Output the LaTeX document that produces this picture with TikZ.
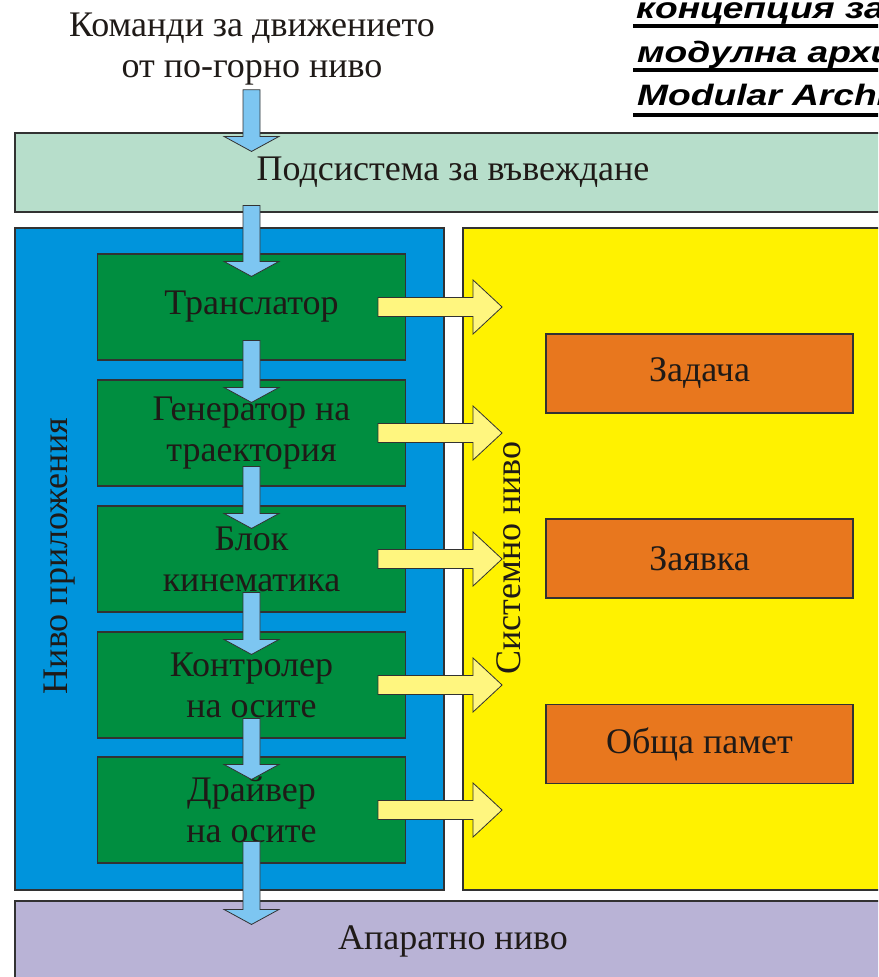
\documentclass[tikz,border=0pt]{standalone}
\usepackage{fontspec}
\setmainfont{Liberation Serif}
\newfontfamily\headfont{Liberation Sans}
\usetikzlibrary{calc}

\definecolor{ink}{RGB}{31,26,23}
\definecolor{edge}{RGB}{50,50,50}
\definecolor{inputfill}{RGB}{183,222,203}
\definecolor{appfill}{RGB}{0,148,220}
\definecolor{sysfill}{RGB}{255,242,0}
\definecolor{modfill}{RGB}{0,142,64}
\definecolor{taskfill}{RGB}{232,119,30}
\definecolor{hwfill}{RGB}{185,179,214}
\definecolor{flowfill}{RGB}{125,198,241}
\definecolor{callfill}{RGB}{255,246,127}

% block arrow pointing down, from the start point #1 to the tip #2
\newcommand\downblock[2]{%
  \path[flowarrow] let \p1=#1, \p2=#2 in
    (\x1-8.5pt,\y1) -- (\x1+8.5pt,\y1) -- (\x1+8.5pt,\y2+15pt)
    -- (\x1+27.5pt,\y2+15pt) -- (\x1,\y2) -- (\x1-27.5pt,\y2+15pt)
    -- (\x1-8.5pt,\y2+15pt) -- cycle;}
% block arrow pointing right, from the start point #1 to the tip #2
\newcommand\rightblock[2]{%
  \path[callarrow] let \p1=#1, \p2=#2 in
    (\x1,\y1+9.5pt) -- (\x2-29pt,\y1+9.5pt) -- (\x2-29pt,\y1+27pt)
    -- (\x2,\y1) -- (\x2-29pt,\y1-27pt) -- (\x2-29pt,\y1-9.5pt)
    -- (\x1,\y1-9.5pt) -- cycle;}

\begin{document}
\begin{tikzpicture}[x=1pt,y=-1pt,
  label text/.style={text=ink, font=\fontsize{36}{41}\selectfont, align=center, inner sep=0pt},
  panel/.style={draw=edge, line width=1.1pt, inner sep=0pt, label text},
  module/.style={panel, fill=modfill, minimum width=308, minimum height=106},
  task/.style={panel, fill=taskfill, minimum width=307, minimum height=79},
  flowarrow/.style={draw=edge, line width=0.8pt, fill=flowfill},
  callarrow/.style={draw=edge, line width=0.8pt, fill=callfill},
  headline/.style={anchor=base west, inner sep=0pt, text=black,
    font=\headfont\bfseries\itshape\fontsize{29.5}{34}\selectfont},
  headrule/.style={line width=3.6pt}]
\useasboundingbox (0,0) rectangle (878,977);
\clip (0,0) rectangle (878,977);

% heading, running off the right edge
\node[headline] (h1) at (636,19) {\scalebox{1.26}[1]{концепция за}};
\node[headline] (h2) at (637,62) {\scalebox{1.26}[1]{модулна архитектура}};
\node[headline] (h3) at (637,105) {\scalebox{1.26}[1]{Modular Architecture}};
\draw[headrule] ($(h1.base west)+(-3,7)$) -- ++(320,0);
\draw[headrule] ($(h2.base west)+(-4,8)$) -- ++(320,0);
\draw[headrule] ($(h3.base west)+(-4,10)$) -- ++(320,0);

% incoming commands
\node[label text] (cmd) at (252,49.5) {Команди за движението\\от по-горно ниво};

% layers
\node[panel, fill=inputfill, minimum width=876, minimum height=79] (in) at (453,172.5) {Подсистема за въвеждане};
\node[panel, fill=appfill, minimum width=429, minimum height=662] (app) at (229.5,559) {};
\node[panel, fill=sysfill, minimum width=477, minimum height=662] (sys) at (701.5,559) {};
\node[panel, fill=hwfill, minimum width=876, minimum height=80] (hw) at (453,941) {Апаратно ниво};

\node[label text, rotate=90] (applbl) at (60,556) {Ниво приложения};
\node[label text, rotate=90] (syslbl) at (509,558) {Системно ниво};

% application modules
\node[module] (t1) at (251.5,307) {Транслатор};
\node[module] (t2) at (251.5,433) {Генератор на\\траектория};
\node[module] (t3) at (251.5,559) {Блок\\кинематика};
\node[module] (t4) at (251.5,685) {Контролер\\на осите};
\node[module] (t5) at (251.5,810) {Драйвер\\на осите};

% system services
\node[task] (s1) at (699.5,373.5) {Задача};
\node[task] (s2) at (699.5,558.5) {Заявка};
\node[task] (s3) at (699.5,744) {Обща памет};

% data flow down through the modules
\coordinate (f0s) at ($(t1 |- cmd.south)+(0,4)$);
\coordinate (f0e) at ($(t1 |- in.north)+(0,19)$);
\coordinate (f1s) at ($(t1 |- in.south)+(0,-7)$);
\coordinate (f1e) at ($(t1.north)+(0,23)$);
\coordinate (f2s) at ($(t1.south)+(0,-20)$);
\coordinate (f2e) at ($(t2.north)+(0,23)$);
\coordinate (f3s) at ($(t2.south)+(0,-20)$);
\coordinate (f3e) at ($(t3.north)+(0,23)$);
\coordinate (f4s) at ($(t3.south)+(0,-20)$);
\coordinate (f4e) at ($(t4.north)+(0,23)$);
\coordinate (f5s) at ($(t4.south)+(0,-20)$);
\coordinate (f5e) at ($(t5.north)+(0,23)$);
\coordinate (f6s) at ($(t5.south)+(0,-22)$);
\coordinate (f6e) at ($(t5 |- hw.north)+(0,24)$);
\downblock{(f0s)}{(f0e)}
\downblock{(f1s)}{(f1e)}
\downblock{(f2s)}{(f2e)}
\downblock{(f3s)}{(f3e)}
\downblock{(f4s)}{(f4e)}
\downblock{(f5s)}{(f5e)}
\downblock{(f6s)}{(f6e)}

% calls from each module into the system level
\foreach \m in {t1,t2,t3,t4,t5}{
  \coordinate (\m cs) at ($(\m.east)+(-28,0)$);
  \coordinate (\m ce) at ($(\m.east)+(96,0)$);
  \rightblock{(\m cs)}{(\m ce)}
}
\end{tikzpicture}
\end{document}
